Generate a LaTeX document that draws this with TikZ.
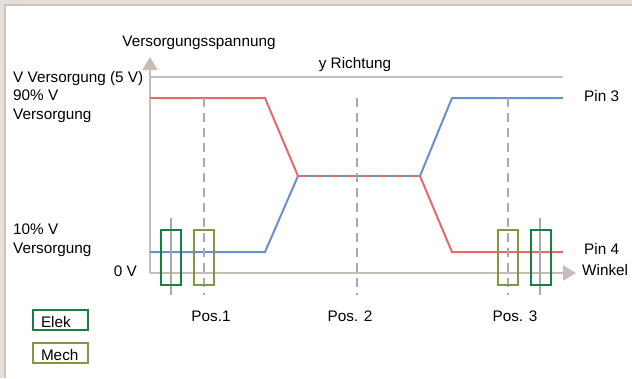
\documentclass[tikz,border=0pt]{standalone}
\usepackage{fontspec}
\setmainfont{Liberation Sans}
\usetikzlibrary{arrows.meta}
\definecolor{framelight}{RGB}{230,223,217}
\definecolor{framedark}{RGB}{205,194,186}
\definecolor{axisgray}{RGB}{200,189,182}
\definecolor{markgray}{RGB}{170,170,170}
\definecolor{pinred}{RGB}{233,104,104}
\definecolor{pinblue}{RGB}{104,143,210}
\definecolor{elekgreen}{RGB}{22,128,62}
\definecolor{mechgreen}{RGB}{125,155,62}
\tikzset{
  axis/.style={axisgray,line width=2pt},
  axisarrow/.style={axis,-{Triangle[width=15pt,length=13pt]}},
  marker/.style={markgray,line width=2pt},
  posline/.style={markgray,line width=2pt,dash pattern=on 9pt off 6pt},
  pin/.style={line width=2pt},
  window/.style={draw,line width=2pt,minimum width=20pt,minimum height=55pt,inner sep=0pt},
  legend/.style={draw,line width=2pt,text width=39pt,inner xsep=8pt,inner ysep=2pt,
    text height=15pt,text depth=1pt,minimum height=20pt,align=left,
    font=\fontsize{15.3}{18}\selectfont},
  lbl/.style={inner sep=0pt,font=\fontsize{15.3}{18}\selectfont},
}
\begin{document}
\begin{tikzpicture}[x=1pt,y=-1pt]
      \fill[framelight] (0,0) rectangle (632,378);
      \fill[framedark] (4,4) rectangle (632,378);
      \fill[white] (6,6) rectangle (632,378);
      \useasboundingbox (0,0) rectangle (632,378);
      \path
        (150,273) coordinate (o)
        (150,57) coordinate (ytip)
        (576,273) coordinate (xtip)
        (150,77) coordinate (v0)
        (563,77) coordinate (v1)
        (150,98) coordinate (r0)
        (265,98) coordinate (r1)
        (298,176) coordinate (m0)
        (420,176) coordinate (m1)
        (452,252) coordinate (r4)
        (563,252) coordinate (r5)
        (150,252) coordinate (b0)
        (265,252) coordinate (b1)
        (452,98) coordinate (b4)
        (563,98) coordinate (b5)
        (204,98) coordinate (p1t)
        (204,295) coordinate (p1b)
        (357,98) coordinate (p2t)
        (357,295) coordinate (p2b)
        (508,98) coordinate (p3t)
        (508,295) coordinate (p3b)
        (171,218) coordinate (e1t)
        (171,295) coordinate (e1b)
        (540,218) coordinate (e3t)
        (540,295) coordinate (e3b);
      \begin{scope}[axis]
        \draw (v0) to (v1);
        \draw[axisarrow] (o) to (ytip);
        \draw[axisarrow] (o) to (xtip);
      \end{scope}
      \begin{scope}[pin]
        \draw[pinred] (r0) -- (r1) -- (m0);
        \draw[pinred] (m1) -- (r4) -- (r5);
        \draw[pinblue] (b0) -- (b1) -- (m0);
        \draw[pinblue] (m1) -- (b4) -- (b5);
        \draw[pinblue] (m0) to (m1);
        \draw[pinred,dash pattern=on 8pt off 8pt] (m0) to (m1);
      \end{scope}
      \draw[posline] (p1t) to (p1b);
      \draw[posline] (p2t) to (p2b);
      \draw[posline] (p3t) to (p3b);
      \draw[marker] (e1t) to (e1b);
      \draw[marker] (e3t) to (e3b);
      \node[window,elekgreen] (elek1) at (171,257.5) {};
      \node[window,mechgreen] (mech1) at (204,257.5) {};
      \node[window,mechgreen] (mech3) at (508,257.5) {};
      \node[window,elekgreen] (elek3) at (540.5,257.5) {};
      \node[lbl,anchor=base] (vs) at (199,46) {Versorgungsspannung};
      \node[lbl,anchor=base] (yr) at (355,68) {y Richtung};
      \node[lbl,anchor=base west] (vmax) at (13,82) {V Versorgung (5 V)};
      \node[lbl,anchor=base west] (v90a) at (13,100) {90\% V};
      \node[lbl,anchor=base west] (v90b) at (13,119) {Versorgung};
      \node[lbl,anchor=base west] (v10a) at (13,234) {10\% V};
      \node[lbl,anchor=base west] (v10b) at (13,253) {Versorgung};
      \node[lbl,anchor=base east] (vnull) at (137,276) {0 V};
      \node[lbl,anchor=base west] (pin3) at (584,101) {Pin 3};
      \node[lbl,anchor=base west] (pin4) at (584,254) {Pin 4};
      \node[lbl,anchor=base west] (winkel) at (582,275) {Winkel};
      \node[lbl,anchor=base] (pos1) at (211,321) {Pos.1};
      \node[lbl,anchor=base] (pos2) at (350,321) {Pos. 2};
      \node[lbl,anchor=base] (pos3) at (515,321) {Pos. 3};
      \node[legend,draw=elekgreen] (elek) at (60.5,320) {Elek};
      \node[legend,draw=mechgreen] (mech) at (60.5,353) {Mech};
    \end{tikzpicture}
\end{document}
